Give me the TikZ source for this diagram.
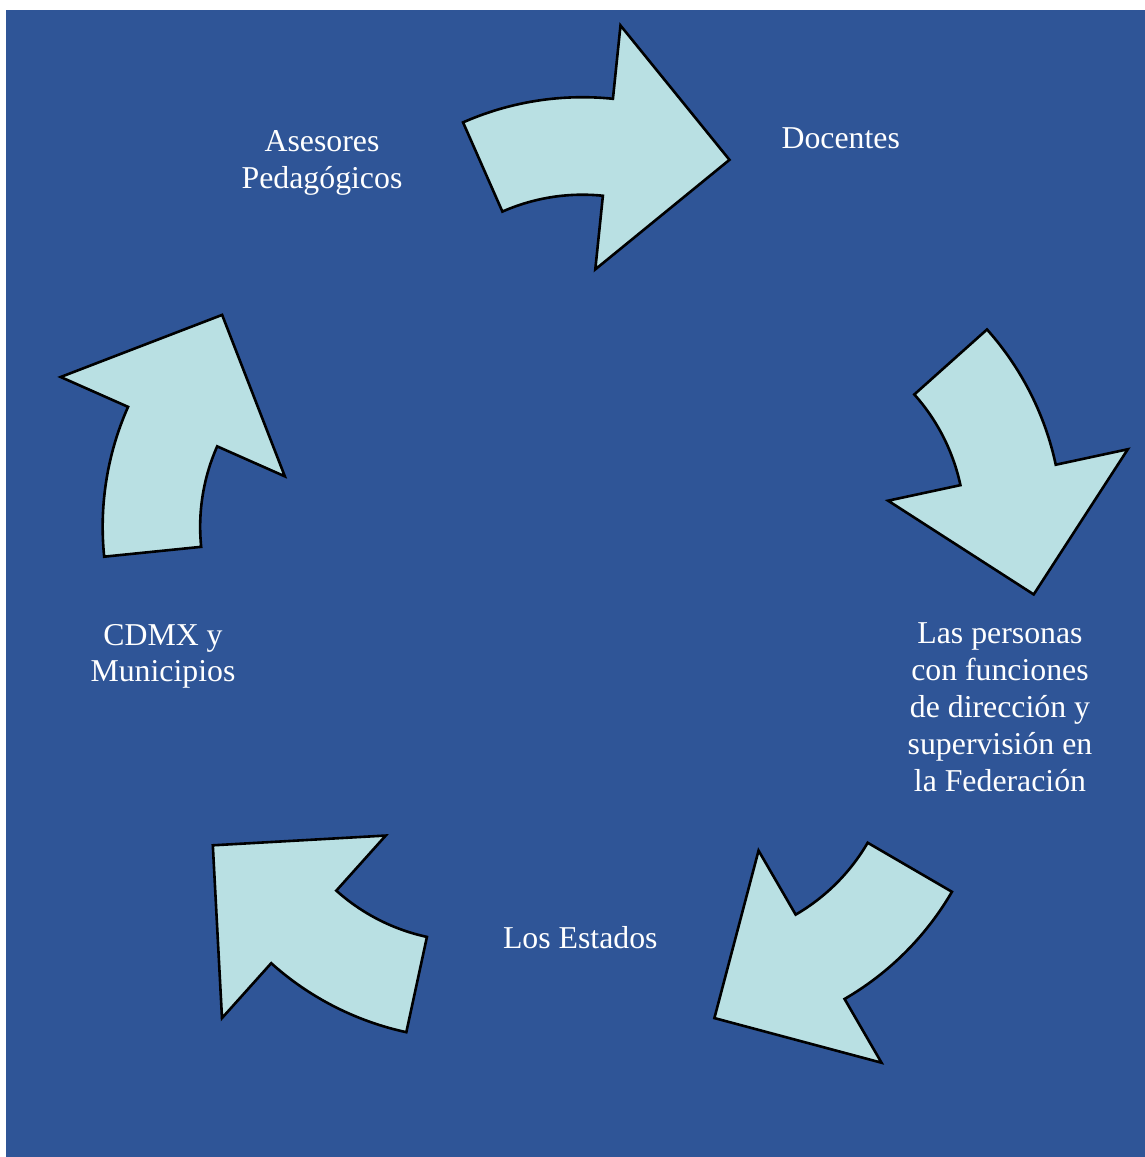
\documentclass[tikz,border=0pt]{standalone}
\usepackage{fontspec}
\setmainfont{Liberation Serif}
\definecolor{bgblue}{RGB}{47,85,151}
\definecolor{arrowfill}{RGB}{185,224,227}
\begin{document}
\begin{tikzpicture}[x=1pt,y=-1pt,
  arw/.style={fill=arrowfill, draw=black, line width=2.6pt, line join=miter},
  lbl/.style={text=white, font=\fontsize{31.8}{36.9}\selectfont, align=center, inner sep=0pt, anchor=base}]
\useasboundingbox (0,0) rectangle (1145,1157);
\fill[bgblue] (6,10) rectangle (1145,1157);
\foreach \k in {0,...,4}{
 \begin{scope}[shift={(582.5,586.5)}, rotate=-72*\k]
  \draw[arw] plot[domain=-113.8:-84.1, samples=40] ({296*cos(\x)},{-193.3+296*sin(\x)})
   -- ({369.7*cos(-84.1)},{-193.3+369.7*sin(-84.1)})
   -- ({275.8*cos(-57.8)},{-193.3+275.8*sin(-57.8)})
   -- ({124.5*cos(-84.1)},{-193.3+124.5*sin(-84.1)})
   -- plot[domain=-84.1:-113.8, samples=40] ({198.5*cos(\x)},{-193.3+198.5*sin(\x)})
   -- cycle;
 \end{scope}}
% base anchor = baseline of the last line
\node[lbl] (asesores) at (322,188.6) {Asesores\\Pedagógicos};
\node[lbl] (docentes) at (840.7,148.3) {Docentes};
\node[lbl] (personas) at (1000,791) {Las personas\\con funciones\\de dirección y\\supervisión en\\la Federación};
\node[lbl] (estados) at (580.3,948.3) {Los Estados};
\node[lbl] (cdmx) at (163,681.9) {CDMX y\\Municipios};
\end{tikzpicture}
\end{document}
